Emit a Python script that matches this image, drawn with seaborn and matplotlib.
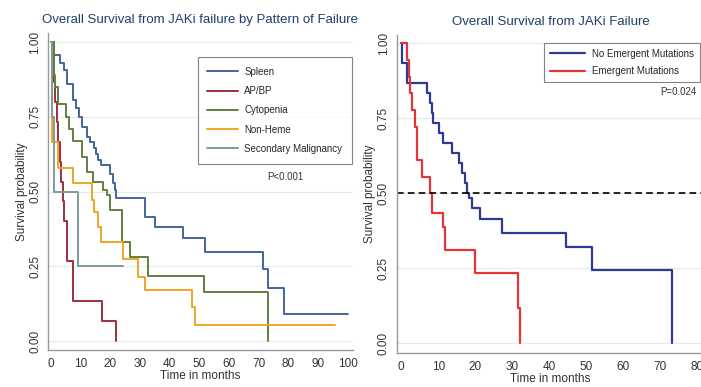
import numpy as np
import pandas as pd
import matplotlib
matplotlib.use("Agg")
import matplotlib.pyplot as plt
import seaborn as sns

# ---- data (Kaplan-Meier steps) ----
spleen_t = [0, 0.7, 3, 4.5, 5.5, 7.5, 8.5, 9.5, 10.5, 12, 13, 14.5, 15, 16, 17,
            20, 21, 21.5, 22, 31.6, 35, 44.5, 52, 71.5, 73, 78.5, 100]
spleen_s = [1.0, 0.955, 0.93, 0.906, 0.86, 0.806, 0.78, 0.75, 0.716, 0.683, 0.666,
            0.645, 0.627, 0.605, 0.588, 0.56, 0.527, 0.504, 0.477, 0.415, 0.38,
            0.343, 0.298, 0.24, 0.179, 0.089, 0.089]

apbp_t = [0, 1, 1.5, 2, 2.5, 3, 3.5, 4, 4.3, 5.4, 7.3, 17.1, 22]
apbp_s = [1.0, 0.867, 0.80, 0.733, 0.667, 0.60, 0.533, 0.467, 0.40, 0.267,
          0.133, 0.067, 0.0]

cyto_t = [0, 1, 1.5, 2.5, 5, 6, 7.5, 10.5, 12, 14, 17.6, 19, 20, 24, 26.6,
          32.8, 51.5, 73]
cyto_s = [1.0, 0.89, 0.85, 0.794, 0.75, 0.71, 0.67, 0.616, 0.566, 0.532, 0.505,
          0.488, 0.438, 0.332, 0.28, 0.217, 0.165, 0.0]

nonheme_t = [0, 0.3, 2.5, 7.5, 13.7, 14.5, 16, 16.7, 24.3, 29.4, 31.6, 47.4,
             48.5, 95.6]
nonheme_s = [1.0, 0.667, 0.578, 0.527, 0.47, 0.432, 0.382, 0.332, 0.276, 0.215,
             0.17, 0.115, 0.053, 0.053]

second_t = [0, 0.5, 1, 9.2, 24.4]
second_s = [1.0, 0.75, 0.5, 0.25, 0.25]

noem_t = [0, 0.3, 1.5, 6.9, 7.8, 8.3, 8.7, 10.1, 11.4, 13.7, 15.5, 16.4, 17.3,
          17.8, 18.3, 19.1, 21.2, 27.2, 44.6, 51.5, 73.2]
noem_s = [1.0, 0.933, 0.867, 0.833, 0.80, 0.767, 0.733, 0.70, 0.667, 0.633, 0.60,
          0.567, 0.533, 0.50, 0.483, 0.45, 0.413, 0.367, 0.322, 0.244, 0.0]

em_t = [0, 1.5, 2.2, 2.5, 3.0, 3.8, 4.2, 5.6, 7.8, 8.3, 11.4, 11.9, 20, 31.5, 32]
em_s = [1.0, 0.944, 0.889, 0.833, 0.778, 0.722, 0.611, 0.556, 0.50, 0.433,
        0.389, 0.311, 0.233, 0.117, 0.0]

left_groups = ["Spleen", "AP/BP", "Cytopenia", "Non-Heme", "Secondary Malignancy"]
left_colors = ["#44659c", "#9c3040", "#62803e", "#f0a526", "#7f9c98"]
right_groups = ["No Emergent Mutations", "Emergent Mutations"]
right_colors = ["#2c3a96", "#e2353a"]

y_ticks = [0, 0.25, 0.5, 0.75, 1.0]
y_ticklabels = ["0.00", "0.25", "0.50", "0.75", "1.00"]


def make_df(names, times, survs):
    frames = []
    for n, t, s in zip(names, times, survs):
        frames.append(pd.DataFrame({"time": t, "surv": s, "group": n}))
    return pd.concat(frames, ignore_index=True)


left_df = make_df(left_groups,
                  [spleen_t, apbp_t, cyto_t, nonheme_t, second_t],
                  [spleen_s, apbp_s, cyto_s, nonheme_s, second_s])
right_df = make_df(right_groups, [noem_t, em_t], [noem_s, em_s])

# --------------------------------------------
# Style
# --------------------------------------------
sns.set_style("white")
plt.rcParams["font.family"] = ["Liberation Sans", "DejaVu Sans"]

fig = plt.figure(figsize=(7.01, 3.87), dpi=100)
ax1 = fig.add_axes([0.0685, 0.0956, 0.435, 0.819])
ax2 = fig.add_axes([0.566, 0.0879, 0.439, 0.822])


def style_axis(ax, xticks):
    ax.set_yticks(y_ticks)
    ax.set_yticklabels(y_ticklabels, rotation=90, va="center")
    ax.set_xticks(xticks)
    ax.grid(axis="y", color="#e6eaee", lw=0.9)
    ax.grid(axis="x", visible=False)
    for sp in ["top", "right"]:
        ax.spines[sp].set_visible(False)
    for sp in ["left", "bottom"]:
        ax.spines[sp].set_color("#9a9a9a")
        ax.spines[sp].set_linewidth(1.0)
    ax.tick_params(axis="both", direction="out", length=4, width=0.9,
                   color="#9a9a9a", labelsize=8.5, labelcolor="#333333", pad=2)
    ax.tick_params(axis="y", pad=1)
    ax.set_ylabel("Survival probability", fontsize=8.5, color="#333333", labelpad=1)
    ax.set_xlabel("Time in months", fontsize=8.5, color="#333333", labelpad=0)


# Left panel
sns.lineplot(data=left_df, x="time", y="surv", hue="group", hue_order=left_groups,
             palette=left_colors, drawstyle="steps-post", estimator=None,
             sort=False, lw=1.4, ax=ax1)
ax1.set_xlim(-1.0, 101.7)
ax1.set_ylim(-0.03, 1.03)
style_axis(ax1, range(0, 101, 10))
ax1.set_title("Overall Survival from JAKi failure by Pattern of Failure",
              fontsize=9.5, color="#1f3f6a", pad=7)
leg1 = ax1.legend(loc="upper right", bbox_to_anchor=(0.997, 0.924), borderaxespad=0,
                  fontsize=7, frameon=True, fancybox=False, handlelength=3.2,
                  handletextpad=0.6, labelspacing=0.95, borderpad=1.0, title=None)
leg1.get_frame().set_edgecolor("#666666")
leg1.get_frame().set_linewidth(0.8)
ax1.text(0.777, 0.546, "P<0.001", transform=ax1.transAxes, ha="center",
         va="center", fontsize=7, color="#333333")

# Right panel
sns.lineplot(data=right_df, x="time", y="surv", hue="group", hue_order=right_groups,
             palette=right_colors, drawstyle="steps-post", estimator=None,
             sort=False, lw=1.6, ax=ax2)
ax2.axhline(0.5, color="black", ls="--", lw=1.2, dashes=(4, 2.5))
ax2.set_xlim(-1.2, 82)
ax2.set_ylim(-0.032, 1.028)
style_axis(ax2, range(0, 81, 10))
ax2.set_title("Overall Survival from JAKi Failure", fontsize=9.5,
              color="#1f3f6a", pad=7)
leg2 = ax2.legend(loc="upper right", bbox_to_anchor=(0.986, 0.975), borderaxespad=0,
                  fontsize=7, frameon=True, fancybox=False, handlelength=3.6,
                  handletextpad=0.8, labelspacing=0.8, borderpad=0.6, title=None)
leg2.get_frame().set_edgecolor("#666666")
leg2.get_frame().set_linewidth(0.8)
ax2.text(0.975, 0.82, "P=0.024", transform=ax2.transAxes, ha="right",
         va="center", fontsize=7, color="#333333")

fig.savefig("out.png", dpi=100)
